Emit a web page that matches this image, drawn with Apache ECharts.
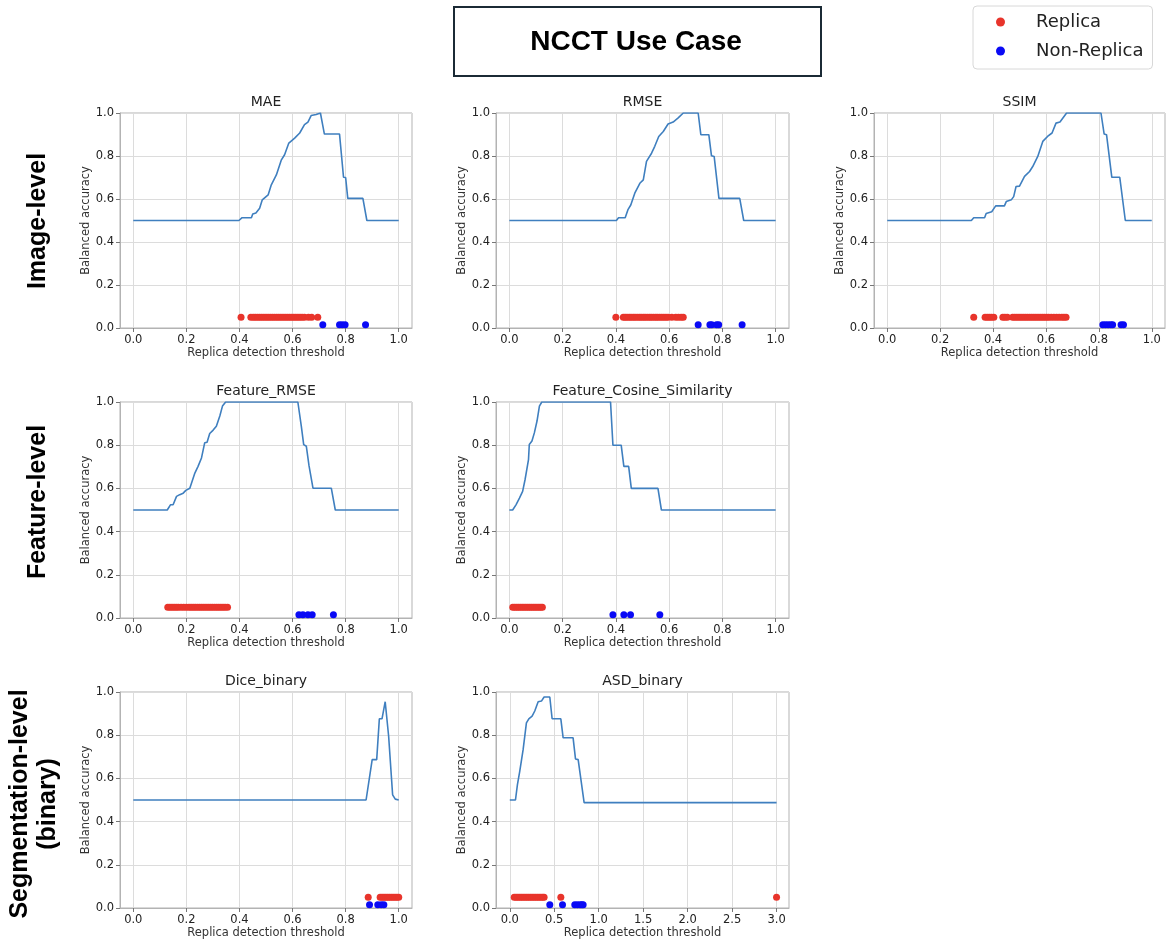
<!DOCTYPE html>
<html>
<head>
<meta charset="utf-8">
<script src="https://cdn.jsdelivr.net/npm/echarts@6/dist/echarts.min.js"></script>
<style>
  html, body { margin: 0; padding: 0; background: #fff; }
  #chart { width: 1169px; height: 941px; }
</style>
</head>
<body>
<div id="chart"></div>
<script>
// tick labels
const unitTicks = [0, 0.2, 0.4, 0.6, 0.8, 1.0];
const asdTicks = [0, 0.5, 1.0, 1.5, 2.0, 2.5, 3.0];
const accTicks = [0, 0.2, 0.4, 0.6, 0.8, 1.0];

// dots sit at fixed heights
const replicaLevel = 0.05;
const nonReplicaLevel = 0.015;

// MAE
const maeX = [0, 0.398, 0.41, 0.445, 0.45, 0.462, 0.476, 0.486, 0.508, 0.52, 0.539, 0.558, 0.57, 0.586, 0.608, 0.627, 0.645, 0.658, 0.67, 0.689, 0.705, 0.72, 0.777, 0.792, 0.8, 0.808, 0.865, 0.88, 1.0];
const maeY = [0.5, 0.5, 0.513, 0.513, 0.53, 0.535, 0.557, 0.596, 0.619, 0.666, 0.712, 0.782, 0.806, 0.86, 0.883, 0.907, 0.946, 0.958, 0.988, 0.993, 1.0, 0.902, 0.902, 0.701, 0.7, 0.603, 0.603, 0.5, 0.5];
const maeReplica = [0.406, 0.443, 0.452, 0.46, 0.468, 0.476, 0.484, 0.492, 0.5, 0.508, 0.516, 0.524, 0.532, 0.54, 0.548, 0.556, 0.564, 0.572, 0.58, 0.588, 0.596, 0.604, 0.612, 0.62, 0.628, 0.636, 0.645, 0.66, 0.672, 0.695];
const maeNonReplica = [0.714, 0.777, 0.787, 0.798, 0.875];

// RMSE
const rmseX = [0, 0.402, 0.41, 0.435, 0.446, 0.456, 0.471, 0.49, 0.503, 0.515, 0.534, 0.546, 0.561, 0.578, 0.596, 0.615, 0.634, 0.653, 0.709, 0.719, 0.749, 0.759, 0.769, 0.787, 0.865, 0.88, 1.0];
const rmseY = [0.5, 0.5, 0.513, 0.513, 0.552, 0.572, 0.627, 0.673, 0.689, 0.775, 0.813, 0.845, 0.891, 0.914, 0.949, 0.958, 0.977, 1.0, 1.0, 0.899, 0.899, 0.801, 0.798, 0.603, 0.603, 0.5, 0.5];
const rmseReplica = [0.4, 0.428, 0.435, 0.442, 0.45, 0.457, 0.465, 0.472, 0.48, 0.488, 0.495, 0.503, 0.51, 0.518, 0.526, 0.533, 0.541, 0.549, 0.556, 0.564, 0.572, 0.58, 0.588, 0.596, 0.61, 0.625, 0.635, 0.645, 0.653];
const rmseNonReplica = [0.709, 0.753, 0.76, 0.778, 0.786, 0.874];

// SSIM
const ssimX = [0, 0.318, 0.327, 0.368, 0.374, 0.395, 0.41, 0.443, 0.45, 0.469, 0.478, 0.487, 0.5, 0.519, 0.538, 0.55, 0.569, 0.588, 0.606, 0.623, 0.638, 0.653, 0.678, 0.808, 0.82, 0.829, 0.849, 0.879, 0.9, 1.0];
const ssimY = [0.5, 0.5, 0.513, 0.513, 0.533, 0.541, 0.568, 0.568, 0.588, 0.596, 0.611, 0.658, 0.66, 0.705, 0.728, 0.751, 0.798, 0.868, 0.891, 0.907, 0.953, 0.958, 1.0, 1.0, 0.902, 0.899, 0.701, 0.701, 0.5, 0.5];
const ssimReplica = [0.327, 0.37, 0.378, 0.386, 0.394, 0.403, 0.437, 0.445, 0.454, 0.474, 0.482, 0.49, 0.498, 0.506, 0.514, 0.522, 0.53, 0.538, 0.546, 0.554, 0.562, 0.57, 0.578, 0.586, 0.594, 0.602, 0.61, 0.62, 0.63, 0.64, 0.65, 0.66, 0.668, 0.676];
const ssimNonReplica = [0.815, 0.825, 0.835, 0.845, 0.852, 0.884, 0.893];

// Feature_RMSE
const featRmseX = [0, 0.128, 0.14, 0.15, 0.163, 0.175, 0.188, 0.198, 0.213, 0.232, 0.244, 0.257, 0.269, 0.278, 0.288, 0.301, 0.313, 0.326, 0.336, 0.348, 0.62, 0.633, 0.642, 0.652, 0.662, 0.667, 0.677, 0.746, 0.761, 1.0];
const featRmseY = [0.5, 0.5, 0.524, 0.524, 0.563, 0.571, 0.578, 0.591, 0.601, 0.671, 0.702, 0.741, 0.811, 0.814, 0.854, 0.87, 0.888, 0.935, 0.981, 1.0, 1.0, 0.888, 0.803, 0.795, 0.705, 0.699, 0.601, 0.601, 0.5, 0.5];
const featRmseReplica = [0.13, 0.138, 0.146, 0.154, 0.162, 0.17, 0.18, 0.19, 0.2, 0.21, 0.218, 0.226, 0.234, 0.242, 0.25, 0.258, 0.266, 0.274, 0.282, 0.29, 0.298, 0.306, 0.314, 0.322, 0.33, 0.338, 0.346, 0.355];
const featRmseNonReplica = [0.624, 0.639, 0.658, 0.674, 0.754];

// Feature_Cosine_Similarity
const cosX = [0, 0.0125, 0.025, 0.038, 0.05, 0.059, 0.072, 0.075, 0.085, 0.094, 0.104, 0.113, 0.122, 0.38, 0.389, 0.42, 0.43, 0.448, 0.458, 0.558, 0.571, 1.0];
const cosY = [0.5, 0.5, 0.524, 0.555, 0.586, 0.64, 0.733, 0.803, 0.819, 0.857, 0.912, 0.981, 1.0, 1.0, 0.8, 0.8, 0.702, 0.702, 0.6, 0.6, 0.5, 0.5];
const cosReplica = [0.013, 0.02, 0.027, 0.034, 0.041, 0.048, 0.055, 0.062, 0.069, 0.076, 0.083, 0.09, 0.097, 0.104, 0.111, 0.118, 0.124];
const cosNonReplica = [0.389, 0.43, 0.455, 0.565];

// Dice_binary
const diceX = [0, 0.877, 0.9, 0.917, 0.927, 0.937, 0.949, 0.962, 0.977, 0.987, 1.0];
const diceY = [0.5, 0.5, 0.687, 0.687, 0.876, 0.876, 0.955, 0.795, 0.524, 0.504, 0.5];
const diceReplica = [0.885, 0.93, 0.937, 0.944, 0.951, 0.958, 0.965, 0.972, 0.979, 0.986, 0.993, 1.0];
const diceNonReplica = [0.89, 0.921, 0.934, 0.944];

// ASD_binary
const asdX = [0, 0.064, 0.086, 0.112, 0.15, 0.187, 0.214, 0.251, 0.281, 0.319, 0.356, 0.386, 0.45, 0.476, 0.574, 0.6, 0.712, 0.739, 0.769, 0.836, 3.0];
const asdY = [0.5, 0.5, 0.571, 0.633, 0.733, 0.857, 0.876, 0.888, 0.912, 0.955, 0.958, 0.977, 0.977, 0.876, 0.876, 0.788, 0.788, 0.69, 0.687, 0.488, 0.488];
const asdReplica = [0.05, 0.07, 0.09, 0.11, 0.13, 0.15, 0.17, 0.19, 0.21, 0.23, 0.25, 0.27, 0.29, 0.31, 0.33, 0.35, 0.37, 0.386, 0.574, 3.0];
const asdNonReplica = [0.45, 0.593, 0.731, 0.76, 0.79, 0.81, 0.825];

const panels = [
    { title: 'MAE', col: 0, row: 0, x: maeX, y: maeY, rep: maeReplica, non: maeNonReplica, ticks: unitTicks, min: -0.05, max: 1.05 },
    { title: 'RMSE', col: 1, row: 0, x: rmseX, y: rmseY, rep: rmseReplica, non: rmseNonReplica, ticks: unitTicks, min: -0.05, max: 1.05 },
    { title: 'SSIM', col: 2, row: 0, x: ssimX, y: ssimY, rep: ssimReplica, non: ssimNonReplica, ticks: unitTicks, min: -0.05, max: 1.05 },
    { title: 'Feature_RMSE', col: 0, row: 1, x: featRmseX, y: featRmseY, rep: featRmseReplica, non: featRmseNonReplica, ticks: unitTicks, min: -0.05, max: 1.05 },
    { title: 'Feature_Cosine_Similarity', col: 1, row: 1, x: cosX, y: cosY, rep: cosReplica, non: cosNonReplica, ticks: unitTicks, min: -0.05, max: 1.05 },
    { title: 'Dice_binary', col: 0, row: 2, x: diceX, y: diceY, rep: diceReplica, non: diceNonReplica, ticks: unitTicks, min: -0.05, max: 1.05 },
    { title: 'ASD_binary', col: 1, row: 2, x: asdX, y: asdY, rep: asdReplica, non: asdNonReplica, ticks: asdTicks, min: -0.155, max: 3.14 }
];

const cols = [{ left: 120, width: 292 }, { left: 496, width: 293 }, { left: 874, width: 291 }];
const rows = [{ top: 113, height: 215 }, { top: 402, height: 216 }, { top: 692, height: 216 }];

const font = 'DejaVu Sans';
const lineColor = '#3f7fbf';
const red = '#e8342b';
const blue = '#0a0af5';
const gridGray = '#dcdcdc';
const spineGray = '#b3b3b3';

let grids = [], xAxes = [], yAxes = [], titles = [], series = [];

panels.forEach((p, i) => {
    let c = cols[p.col], r = rows[p.row];
    grids.push({
        left: c.left, top: r.top, width: c.width, height: r.height,
        show: true, borderColor: spineGray, borderWidth: 1
    });
    titles.push({
        text: p.title,
        left: c.left + c.width / 2, top: r.top - 18,
        textAlign: 'center',
        padding: 0,
        textStyle: { fontFamily: font, fontSize: 14, fontWeight: 'normal', color: '#222' }
    });
    xAxes.push({
        type: 'value', gridIndex: i, min: p.min, max: p.max,
        name: 'Replica detection threshold', nameLocation: 'middle', nameGap: 18,
        nameTextStyle: { fontFamily: font, fontSize: 11.5, color: '#333' },
        axisLine: { onZero: false, lineStyle: { color: spineGray } },
        axisTick: { show: true, length: 4, customValues: p.ticks, lineStyle: { color: '#777' } },
        axisLabel: {
            customValues: p.ticks, margin: 6,
            fontFamily: font, fontSize: 11.5, color: '#222',
            formatter: v => v.toFixed(1)
        },
        splitLine: { show: true, lineStyle: { color: gridGray } }
    });
    yAxes.push({
        type: 'value', gridIndex: i, min: 0, max: 1,
        name: 'Balanced accuracy', nameLocation: 'middle', nameGap: 24,
        nameTextStyle: { fontFamily: font, fontSize: 11.5, color: '#333' },
        axisLine: { show: true, onZero: false, lineStyle: { color: spineGray } },
        axisTick: { show: true, length: 4, customValues: accTicks, lineStyle: { color: '#777' } },
        axisLabel: {
            customValues: accTicks, margin: 6,
            fontFamily: font, fontSize: 11.5, color: '#222',
            formatter: v => v.toFixed(1)
        },
        splitLine: { show: true, lineStyle: { color: gridGray } }
    });
    series.push({
        type: 'line', name: p.title, xAxisIndex: i, yAxisIndex: i,
        showSymbol: false, silent: true,
        lineStyle: { color: lineColor, width: 1.6 },
        data: p.x.map((v, k) => [v, p.y[k]])
    });
    series.push({
        type: 'scatter', name: 'Replica', xAxisIndex: i, yAxisIndex: i,
        symbolSize: 7, itemStyle: { color: red, opacity: 1 },
        data: p.rep.map(v => [v, replicaLevel])
    });
    series.push({
        type: 'scatter', name: 'Non-Replica', xAxisIndex: i, yAxisIndex: i,
        symbolSize: 7, itemStyle: { color: blue, opacity: 1 },
        data: p.non.map(v => [v, nonReplicaLevel])
    });
});

const rowLabelStyle = { fontFamily: 'Liberation Sans', fontSize: 25, fontWeight: 'bold', fill: '#000', align: 'center', verticalAlign: 'middle' };

const option = {
    animation: false,
    backgroundColor: '#fff',
    title: titles,
    grid: grids,
    xAxis: xAxes,
    yAxis: yAxes,
    series: series,
    legend: {
        data: ['Replica', 'Non-Replica'],
        orient: 'vertical', left: 973, top: 6,
        icon: 'circle', itemWidth: 9, itemHeight: 9, itemGap: 9,
        padding: [6, 9, 8, 23],
        borderColor: '#d8d8d8', borderWidth: 1, borderRadius: 4,
        textStyle: { fontFamily: font, fontSize: 18, color: '#222', lineHeight: 20, padding: [0, 0, 0, 26] }
    },
    graphic: [
        {
            type: 'rect', left: 453, top: 6,
            shape: { width: 367, height: 69 },
            style: { fill: '#fff', stroke: '#1b2a35', lineWidth: 2 }
        },
        {
            type: 'text', x: 636, y: 42,
            style: { text: 'NCCT Use Case', fontFamily: 'Liberation Sans', fontSize: 28, fontWeight: 'bold', fill: '#000', align: 'center', verticalAlign: 'middle' }
        },
        { type: 'text', x: 38, y: 221, rotation: Math.PI / 2, style: Object.assign({ text: 'Image-level' }, rowLabelStyle) },
        { type: 'text', x: 38, y: 502, rotation: Math.PI / 2, style: Object.assign({ text: 'Feature-level' }, rowLabelStyle) },
        { type: 'text', x: 34, y: 804, rotation: Math.PI / 2, style: Object.assign({ text: 'Segmentation-level\n(binary)', lineHeight: 28 }, rowLabelStyle) }
    ]
};

let myChart = echarts.init(document.getElementById('chart'), null, { renderer: 'canvas' });
myChart.setOption(option);
</script>
</body>
</html>
